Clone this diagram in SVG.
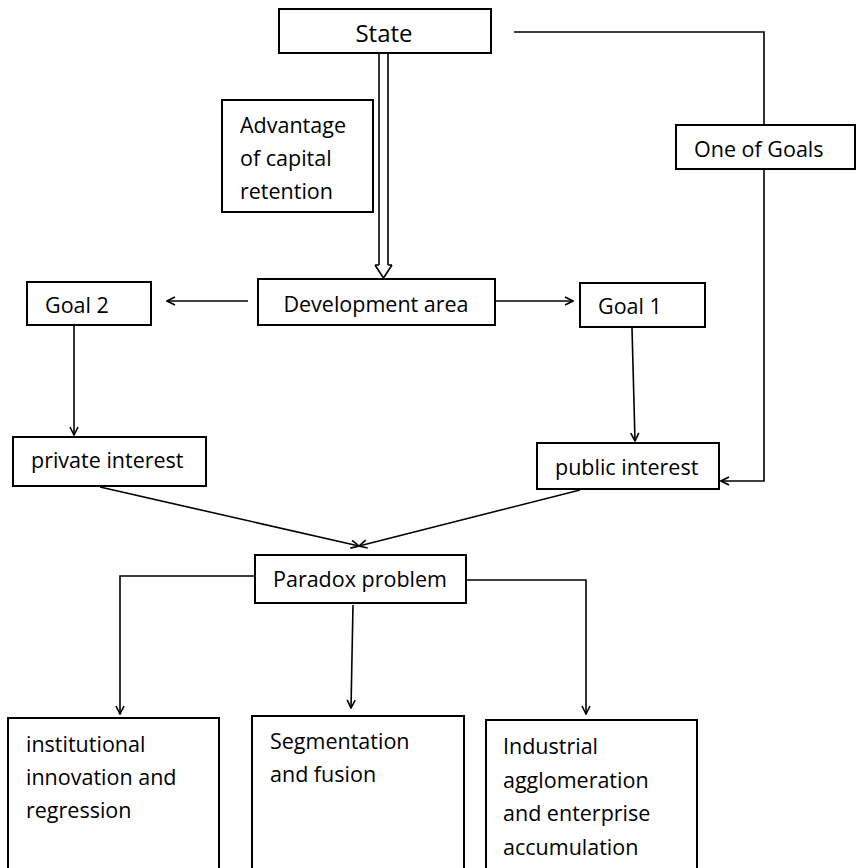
<svg xmlns="http://www.w3.org/2000/svg" width="857" height="868" viewBox="0 0 857 868">
<style>
.box{fill:#fff;stroke:#000;stroke-width:2}
.t{font-family:"Open Sans","DejaVu Sans",sans-serif;font-size:21.5px;fill:#000}
.c{fill:none;stroke:#000;stroke-width:1.6}
</style>
<defs>
<marker id="ah" viewBox="0 0 10 10" refX="9" refY="5" markerWidth="10" markerHeight="10" markerUnits="userSpaceOnUse" orient="auto">
<path d="M1,1 L9,5 L1,9" fill="none" stroke="#000" stroke-width="1.6"/>
</marker>
</defs>
<rect width="857" height="868" fill="#fff"/>
<g id="connectors">
<path class="c" d="M379,54 V265 M388,54 V265 M375,265 H379 M388,265 H392 M375,265 L383.5,278 L392,265"/>
<path class="c" d="M248,301 H167" marker-end="url(#ah)"/>
<path class="c" d="M496,301 H573" marker-end="url(#ah)"/>
<path class="c" d="M514,32 H764 V125"/>
<path class="c" d="M764,169 V481 H721" marker-end="url(#ah)"/>
<path class="c" d="M74,326 V435" marker-end="url(#ah)"/>
<path class="c" d="M632,328 L635,441" marker-end="url(#ah)"/>
<path class="c" d="M100,487 L359,546" marker-end="url(#ah)"/>
<path class="c" d="M580,490 L359,546" marker-end="url(#ah)"/>
<path class="c" d="M255,576 H120 V714" marker-end="url(#ah)"/>
<path class="c" d="M353,605 L351,708" marker-end="url(#ah)"/>
<path class="c" d="M467,580 H586 V714" marker-end="url(#ah)"/>
</g>
<g id="state"><rect class="box" x="279" y="9" width="212" height="44"/><text class="t" x="384" y="42" text-anchor="middle" style="font-size:24px">State</text></g>
<g id="advantage"><rect class="box" x="222" y="100" width="151" height="112"/><text class="t" x="240" y="133">Advantage</text><text class="t" x="240" y="166">of capital</text><text class="t" x="240" y="199">retention</text></g>
<g id="development"><rect class="box" x="258" y="279" width="237" height="46"/><text class="t" x="376" y="312" text-anchor="middle">Development area</text></g>
<g id="goal2"><rect class="box" x="27" y="282" width="124" height="43"/><text class="t" x="45" y="313">Goal 2</text></g>
<g id="goal1"><rect class="box" x="580" y="283" width="125" height="44"/><text class="t" x="598" y="314">Goal 1</text></g>
<g id="oneofgoals"><rect class="box" x="676" y="125" width="179" height="44"/><text class="t" x="694" y="157">One of Goals</text></g>
<g id="private"><rect class="box" x="13" y="437" width="193" height="49"/><text class="t" x="31" y="468">private interest</text></g>
<g id="public"><rect class="box" x="537" y="443" width="182" height="46"/><text class="t" x="555" y="475">public interest</text></g>
<g id="paradox"><rect class="box" x="255" y="555" width="211" height="48"/><text class="t" x="273" y="587">Paradox problem</text></g>
<g id="institutional"><rect class="box" x="8" y="718" width="211" height="155"/><text class="t" x="26" y="752">institutional</text><text class="t" x="26" y="785">innovation and</text><text class="t" x="26" y="818">regression</text></g>
<g id="segmentation"><rect class="box" x="252" y="716" width="212" height="157"/><text class="t" x="270" y="749">Segmentation</text><text class="t" x="270" y="782">and fusion</text></g>
<g id="industrial"><rect class="box" x="486" y="720" width="211" height="153"/><text class="t" x="503" y="754">Industrial</text><text class="t" x="503" y="788">agglomeration</text><text class="t" x="503" y="821">and enterprise</text><text class="t" x="503" y="855">accumulation</text></g>
</svg>
